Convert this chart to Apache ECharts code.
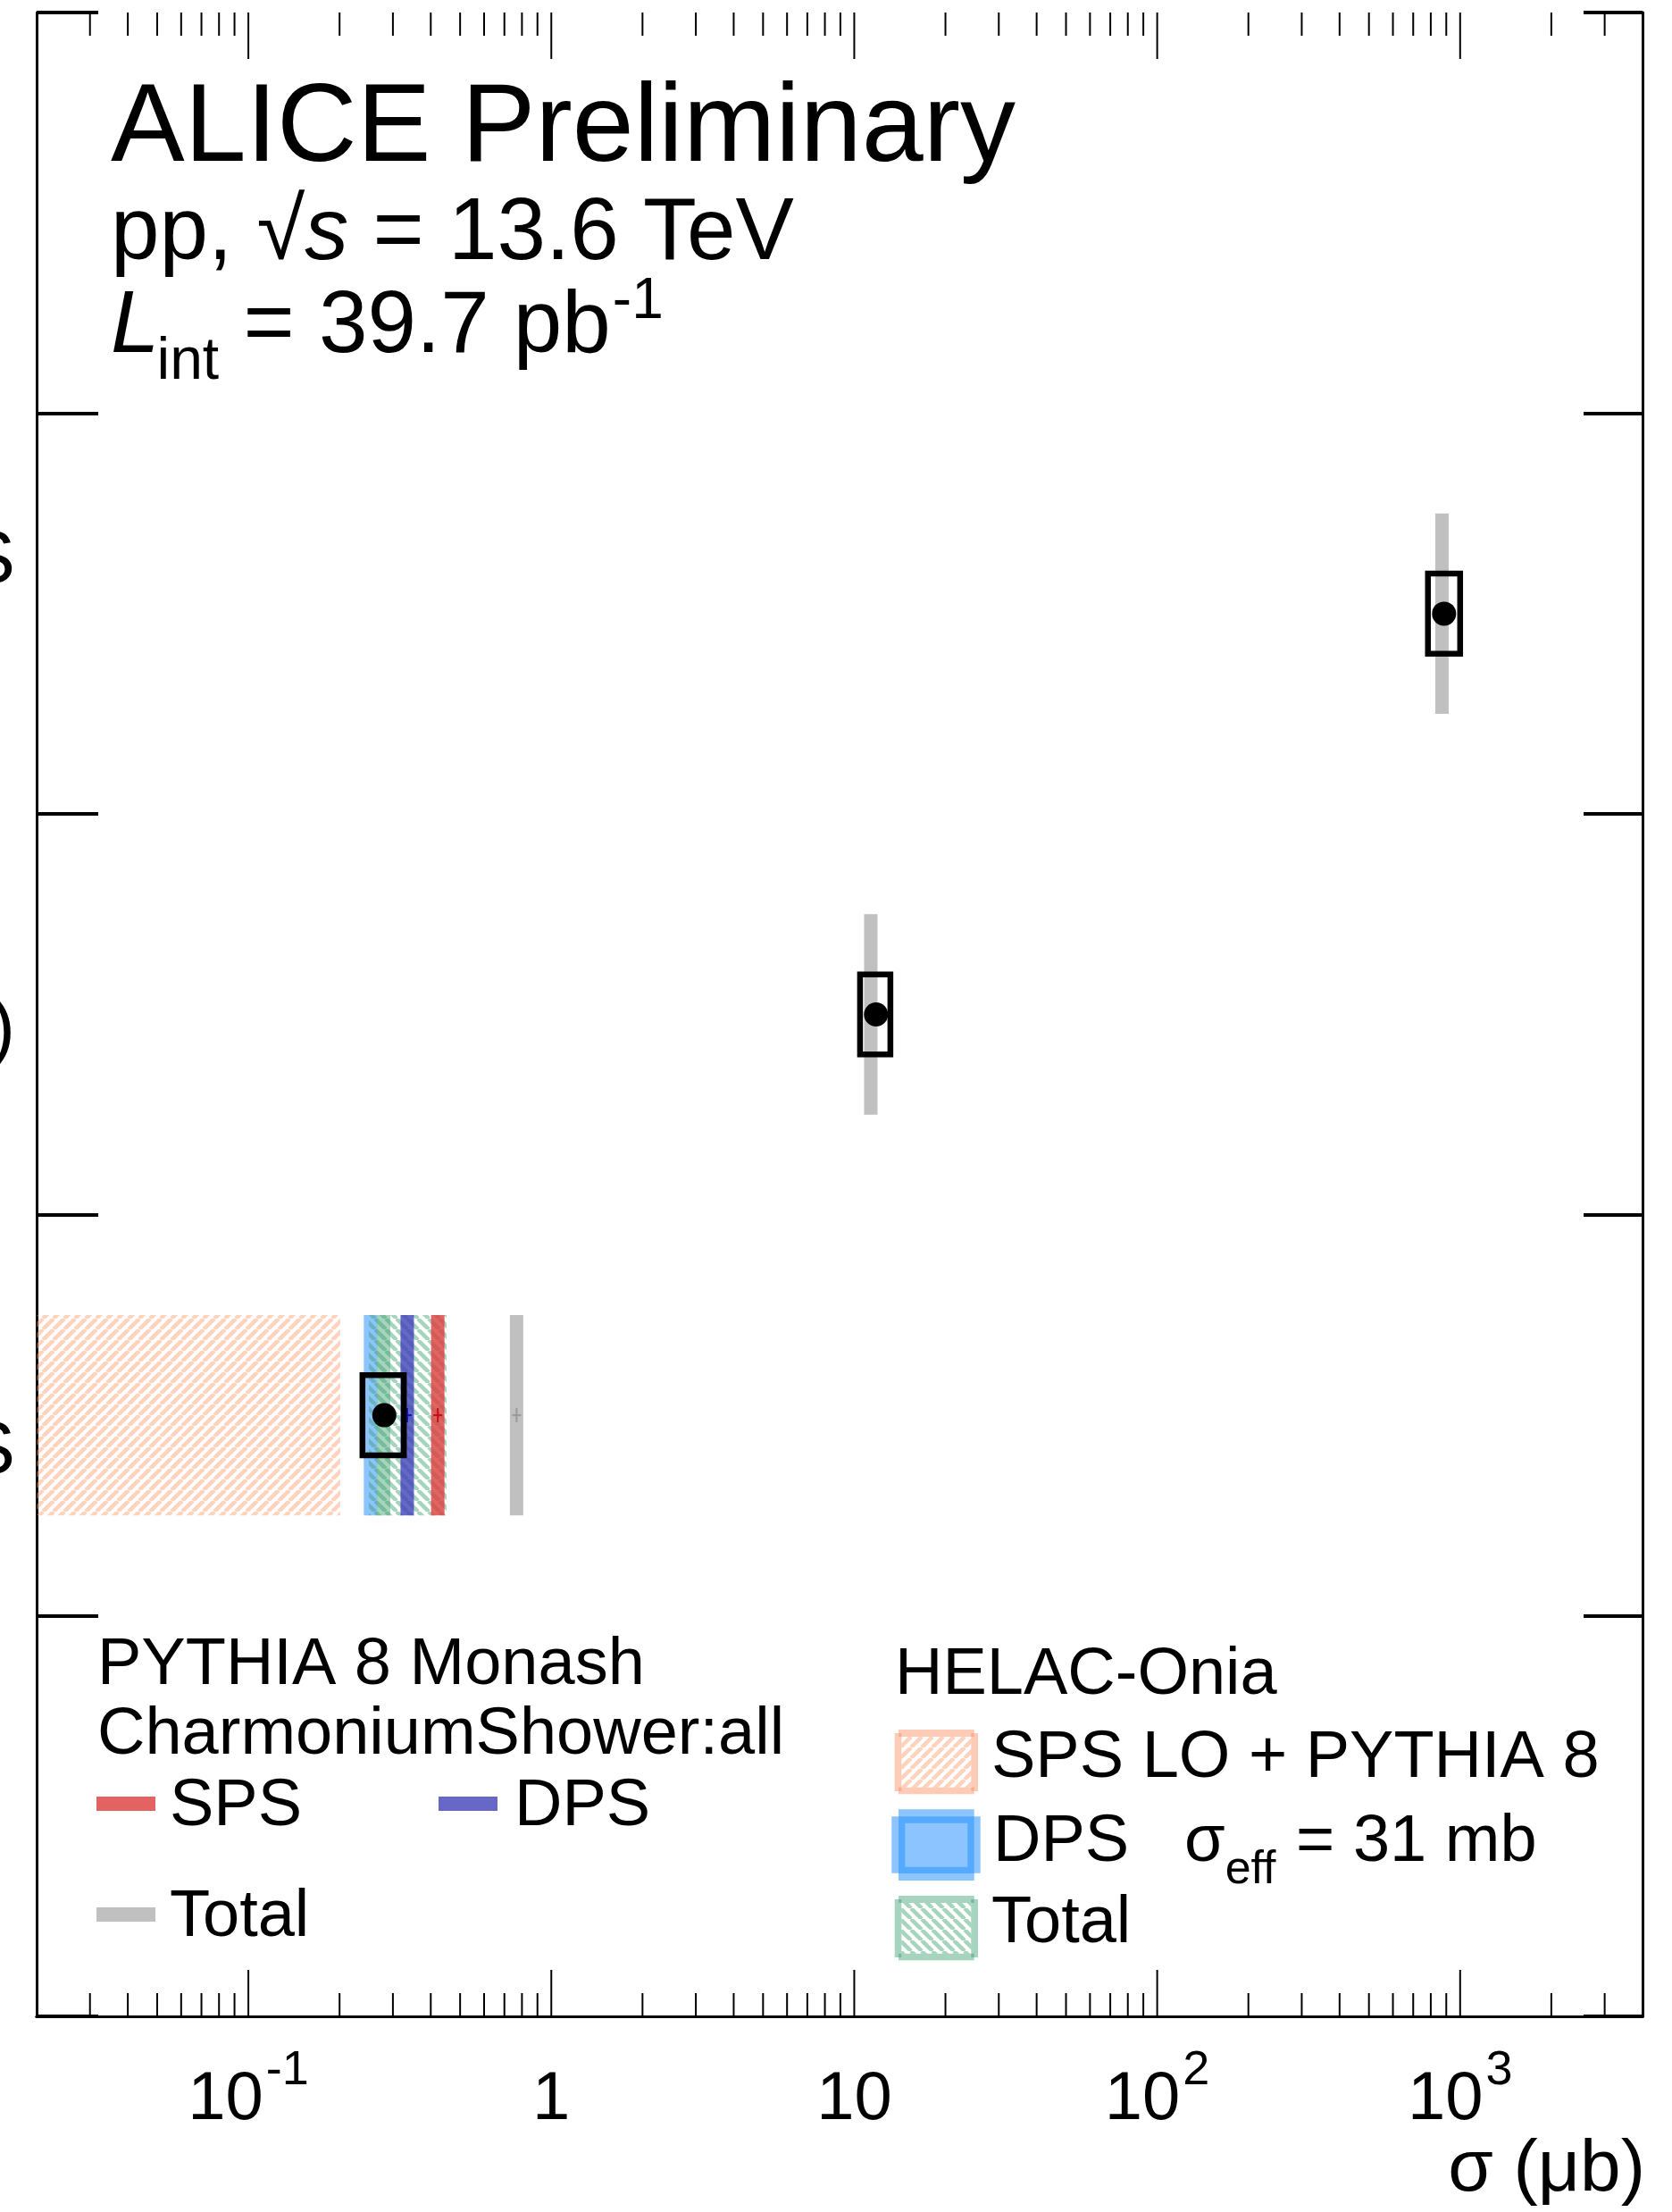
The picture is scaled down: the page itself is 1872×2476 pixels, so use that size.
<!DOCTYPE html>
<html>
<head>
<meta charset="utf-8">
<script src="https://cdn.jsdelivr.net/npm/echarts@6/dist/echarts.min.js"></script>
<style>
html,body{margin:0;padding:0;background:#fff;}
#chart{width:1872px;height:2476px;}
</style>
</head>
<body>
<div id="chart"></div>
<script>
// ---------------- DATA ----------------
// rows from top to bottom, placed at y = 3.5, 2.5, 1.5 on a 0..5 vertical scale
const categories = ['D⁰ DPS', 'J/ψ (incl.)', 'J/ψ + D⁰ SPS+DPS'];
const categoryY = [3.5, 2.5, 1.5];

// ALICE data (μb)
const dataValue    = [885, 11.8, 0.281];
const dataSystLow  = [783, 10.45, 0.238];
const dataSystHigh = [1000, 13.16, 0.326];

// PYTHIA 8 Monash, CharmoniumShower:all (μb)
const pythiaTotal = [871, 11.34, 0.768];
const pythiaSPS   = [null, null, 0.422];
const pythiaDPS   = [null, null, 0.3345];

// HELAC-Onia (μb)
const helacSPSLow    = [null, null, 0.001];
const helacSPSHigh   = [null, null, 0.201];
const helacDPS       = [null, null, 0.253];
const helacTotal     = [null, null, 0.2795];
const helacTotalLow  = [null, null, 0.2498];
const helacTotalHigh = [null, null, 0.451];

// x axis
const xMin = 0.02, xMax = 4000;
const xMajorTicks = [0.1, 1, 10, 100, 1000];
const xTickLabels = ['10^{-1}', '1', '10', '10^{2}', '10^{3}'];
const xMinorTicks = [0.03, 0.04, 0.05, 0.06, 0.07, 0.08, 0.09,
                     0.2, 0.3, 0.4, 0.5, 0.6, 0.7, 0.8, 0.9,
                     2, 3, 4, 5, 6, 7, 8, 9,
                     20, 30, 40, 50, 60, 70, 80, 90,
                     200, 300, 400, 500, 600, 700, 800, 900,
                     2000, 3000];

// ---------------- STYLE / LAYOUT ----------------
const FONT = '"Liberation Sans", Arial, Helvetica, sans-serif';
const BASEK = 0.3465; // baseline offset from 'middle' in units of font size
const mctx = document.createElement('canvas').getContext('2d');
function fontStr(s, it) { return (it ? 'italic ' : '') + s + 'px ' + FONT; }
function measure(t, s, it) { mctx.font = fontStr(s, it); return mctx.measureText(t).width; }
function textEl(x, base, t, s, it, align, color) {
  return {
    type: 'text', x: x, y: base - BASEK * s, silent: true, z: 100,
    style: { text: t, font: fontStr(s, it), fill: color || '#000',
             align: align || 'left', textAlign: align || 'left',
             verticalAlign: 'middle', textVerticalAlign: 'middle' }
  };
}
const graphics = [];
function T(x, base, parts, align) {
  let total = 0;
  parts.forEach(p => { total += measure(p.t, p.s, p.it) + (p.dx || 0); });
  let cx = align === 'right' ? x - total : (align === 'center' ? x - total / 2 : x);
  parts.forEach(p => {
    cx += (p.dx || 0);
    graphics.push(textEl(cx, base + (p.dy || 0), p.t, p.s, p.it));
    cx += measure(p.t, p.s, p.it);
  });
}

function hatch(color, dir, p, lw) {
  const c = document.createElement('canvas');
  c.width = p; c.height = p;
  const g = c.getContext('2d');
  g.strokeStyle = color; g.lineWidth = lw;
  for (let k = -1; k <= 1; k++) {
    g.beginPath();
    if (dir === '/') { g.moveTo(k * p, p); g.lineTo(k * p + p, 0); }
    else { g.moveTo(k * p, 0); g.lineTo(k * p + p, p); }
    g.stroke();
  }
  return c;
}
const orangeHatch = hatch('rgba(253,150,100,0.42)', '/', 12, 4.5);
const greenHatch  = hatch('rgba(60,160,110,0.45)', '\\', 12, 4.5);

const colRed   = 'rgba(220,60,60,0.8)';
const colBlue  = 'rgba(60,60,185,0.78)';
const colGray  = '#c0c0c0';
const colHBlue = '#8cc4ff';
const colHGreen = 'rgba(60,160,110,0.45)';

const BAND = 0.25;   // half height of model bands (in y units)
const BOX = 0.1;     // half height of data syst box

// ---------------- SERIES ----------------
function rows(arrs) {
  const out = [];
  categoryY.forEach((y, i) => {
    if (arrs.every(a => a[i] != null)) out.push(arrs.map(a => a[i]).concat([y]));
  });
  return out;
}

function bandSeries(lo, hi, fill, z) {
  return {
    type: 'custom', z: z, silent: true, data: rows([lo, hi]),
    encode: { x: [0, 1], y: 2 },
    renderItem: (params, api) => {
      const y = api.value(2);
      const a = api.coord([api.value(0), y + BAND]);
      const b = api.coord([api.value(1), y - BAND]);
      const cs = params.coordSys;
      const x0 = Math.max(a[0], cs.x), x1 = Math.min(b[0], cs.x + cs.width);
      return { type: 'rect', shape: { x: x0, y: a[1], width: x1 - x0, height: b[1] - a[1] }, style: { fill: fill } };
    }
  };
}

function lineSeries(vals, color, crossColor, z) {
  return {
    type: 'custom', z: z, silent: true, data: rows([vals]),
    encode: { x: 0, y: 1 },
    renderItem: (params, api) => {
      const v = api.value(0), y = api.value(1);
      const a = api.coord([v, y + BAND]), b = api.coord([v, y - BAND]), c = api.coord([v, y]);
      const children = [{ type: 'line', shape: { x1: a[0], y1: a[1], x2: b[0], y2: b[1] }, style: { stroke: color, lineWidth: 15 } }];
      if (crossColor) {
        children.push({ type: 'line', shape: { x1: c[0] - 5, y1: c[1], x2: c[0] + 5, y2: c[1] }, style: { stroke: crossColor, lineWidth: 2 } });
        children.push({ type: 'line', shape: { x1: c[0], y1: c[1] - 8, x2: c[0], y2: c[1] + 8 }, style: { stroke: crossColor, lineWidth: 2 } });
      }
      return { type: 'group', children: children };
    }
  };
}

const dataSeries = {
  type: 'custom', z: 20, silent: true, data: rows([dataValue, dataSystLow, dataSystHigh]),
  encode: { x: [0, 1, 2], y: 3 },
  renderItem: (params, api) => {
    const y = api.value(3);
    const c = api.coord([api.value(0), y]);
    const a = api.coord([api.value(1), y + BOX]);
    const b = api.coord([api.value(2), y - BOX]);
    return { type: 'group', children: [
      { type: 'rect', shape: { x: a[0], y: a[1], width: b[0] - a[0], height: b[1] - a[1] },
        style: { fill: 'none', stroke: '#000', lineWidth: 6.5 } },
      { type: 'circle', shape: { cx: c[0], cy: c[1], r: 13.5 }, style: { fill: '#000' } }
    ] };
  }
};

function tickSeries(vals, len) {
  return {
    type: 'custom', z: 30, silent: true, data: vals.map(v => [v, 0]),
    encode: { x: 0, y: 1 },
    renderItem: (params, api) => {
      const v = api.value(0);
      const p0 = api.coord([v, 0]), p1 = api.coord([v, 5]);
      return { type: 'group', children: [
        { type: 'line', shape: { x1: p0[0], y1: p0[1], x2: p0[0], y2: p0[1] - len }, style: { stroke: '#000', lineWidth: 2 } },
        { type: 'line', shape: { x1: p1[0], y1: p1[1], x2: p1[0], y2: p1[1] + len }, style: { stroke: '#000', lineWidth: 2 } }
      ] };
    }
  };
}

const xLabelSeries = {
  type: 'custom', z: 30, silent: true, clip: false, data: xMajorTicks.map(v => [v, 0]),
  encode: { x: 0, y: 1 },
  renderItem: (params, api) => {
    const p = api.coord([api.value(0), 0]);
    const lab = xTickLabels[params.dataIndex];
    const m = lab.match(/^([^\^]+)(?:\^\{(.+)\})?$/);
    const base = m[1], sup = m[2] || '';
    const sb = 76, ss = 54;
    const wb = measure(base, sb), ws = sup ? measure(sup, ss) : 0;
    const gap = sup ? 3 : 0;
    const x0 = p[0] - (wb + gap + ws) / 2;
    const children = [textEl(x0, p[1] + 120, base, sb, false)];
    if (sup) children.push(textEl(x0 + wb + gap, p[1] + 80, sup, ss, false));
    return { type: 'group', children: children };
  }
};

const catLabelDy = [-58, 19, 42];
const catLabelSeries = {
  type: 'custom', z: 30, silent: true, clip: false, data: categoryY.map(y => [xMin, y]),
  encode: { x: 0, y: 1 },
  renderItem: (params, api) => {
    const p = api.coord([api.value(0), api.value(1)]);
    const i = params.dataIndex;
    return { type: 'text', x: p[0] - 24, y: p[1] + catLabelDy[i],
      style: { text: categories[i], font: fontStr(84, false), fill: '#000',
               align: 'right', textAlign: 'right', verticalAlign: 'middle', textVerticalAlign: 'middle' } };
  }
};

// ---------------- TEXT & LEGEND ----------------
T(124, 189, [{ t: 'ALICE Preliminary', s: 124 }]);
T(124, 297, [{ t: 'pp, ', s: 98 }, { t: '√', s: 98 }, { t: 's', s: 98, it: true }, { t: ' = 13.6 TeV', s: 98 }]);
T(124, 401, [{ t: 'L', s: 98, it: true }, { t: 'int', s: 66, dy: 28, dx: -3 }, { t: ' = 39.7 pb', s: 98 }, { t: '-1', s: 64, dy: -40, dx: 2 }]);

T(1842, 2458, [{ t: 'σ (μb)', s: 82 }], 'right');

// PYTHIA legend
T(109, 1890, [{ t: 'PYTHIA 8 Monash', s: 74 }]);
T(109, 1968, [{ t: 'CharmoniumShower:all', s: 74 }]);
T(190, 2048, [{ t: 'SPS', s: 74 }]);
T(576, 2048, [{ t: 'DPS', s: 74 }]);
T(190, 2172, [{ t: 'Total', s: 74 }]);
graphics.push({ type: 'rect', shape: { x: 108, y: 2011, width: 66, height: 16 }, style: { fill: colRed }, silent: true });
graphics.push({ type: 'rect', shape: { x: 491, y: 2011, width: 66, height: 16 }, style: { fill: colBlue }, silent: true });
graphics.push({ type: 'rect', shape: { x: 108, y: 2135, width: 66, height: 16 }, style: { fill: colGray }, silent: true });

// HELAC legend
T(1002, 1901, [{ t: 'HELAC-Onia', s: 74 }]);
T(1110, 1994, [{ t: 'SPS LO + PYTHIA 8', s: 74 }]);
T(1112, 2088, [{ t: 'DPS', s: 74 }]);
T(1326, 2088, [{ t: 'σ', s: 74 }, { t: 'eff', s: 52, dy: 24 }, { t: ' = 31 mb', s: 74, dx: 2 }]);
T(1110, 2179, [{ t: 'Total', s: 74 }]);

function hatchedBox(y0, pat, border) {
  graphics.push({ type: 'rect', shape: { x: 1009.3, y: y0 + 8, width: 78, height: 56.7 }, style: { fill: { image: pat, repeat: 'repeat' } }, silent: true });
  const bars = [
    [1006, y0, 84.7, 8], [1006, y0 + 64.7, 84.7, 7.6],
    [1001.7, y0 + 4, 7.6, 65], [1087.3, y0 + 4, 7.7, 65]
  ];
  bars.forEach(b => graphics.push({ type: 'rect', shape: { x: b[0], y: b[1], width: b[2], height: b[3] }, style: { fill: border }, silent: true }));
}
hatchedBox(1936, orangeHatch, 'rgba(250,130,80,0.42)');
hatchedBox(2122, greenHatch, 'rgba(60,160,110,0.45)');
graphics.push({ type: 'rect', shape: { x: 998.3, y: 2033.3, width: 99.4, height: 63.4 }, style: { fill: colHBlue }, silent: true });
graphics.push({ type: 'rect', shape: { x: 1006, y: 2025.3, width: 84.7, height: 79.7 }, style: { fill: colHBlue }, silent: true });
graphics.push({ type: 'rect', shape: { x: 1009.7, y: 2037, width: 77.3, height: 56.3 }, style: { fill: 'none', stroke: '#55a9ff', lineWidth: 7.3 }, silent: true });

// ---------------- CHART ----------------
const chart = echarts.init(document.getElementById('chart'), null, { renderer: 'canvas', width: 1872, height: 2476 });
const axisLine = { show: true, lineStyle: { color: '#000', width: 3 } };
chart.setOption({
  animation: false,
  backgroundColor: '#fff',
  grid: { left: 41, right: 1872 - 1839, top: 14, bottom: 2476 - 2257, containLabel: false },
  xAxis: [
    { type: 'log', logBase: 10, min: xMin, max: xMax, position: 'bottom', axisLine: axisLine,
      axisTick: { show: false }, axisLabel: { show: false }, splitLine: { show: false }, minorTick: { show: false } },
    { type: 'log', logBase: 10, min: xMin, max: xMax, position: 'top', axisLine: axisLine,
      axisTick: { show: false }, axisLabel: { show: false }, splitLine: { show: false } }
  ],
  yAxis: [
    { type: 'value', min: 0, max: 5, interval: 1, position: 'left', axisLine: axisLine,
      axisTick: { show: true, inside: true, length: 69, lineStyle: { color: '#000', width: 4 } },
      axisLabel: { show: false }, splitLine: { show: false } },
    { type: 'value', min: 0, max: 5, interval: 1, position: 'right', axisLine: axisLine,
      axisTick: { show: true, inside: true, length: 66, lineStyle: { color: '#000', width: 4 } },
      axisLabel: { show: false }, splitLine: { show: false } }
  ],
  graphic: { elements: graphics },
  series: [
    bandSeries(helacSPSLow, helacSPSHigh, { image: orangeHatch, repeat: 'repeat' }, 2),
    lineSeries(helacDPS, colHBlue, null, 3),
    bandSeries(helacTotalLow, helacTotalHigh, { image: greenHatch, repeat: 'repeat' }, 4),
    lineSeries(helacTotal, colHGreen, null, 5),
    lineSeries(pythiaDPS, colBlue, '#1010c0', 6),
    lineSeries(pythiaSPS, colRed, '#c01010', 7),
    lineSeries(pythiaTotal, colGray, '#999999', 8),
    dataSeries,
    tickSeries(xMajorTicks, 52),
    tickSeries(xMinorTicks, 26),
    xLabelSeries,
    catLabelSeries
  ]
});
</script>
</body>
</html>
